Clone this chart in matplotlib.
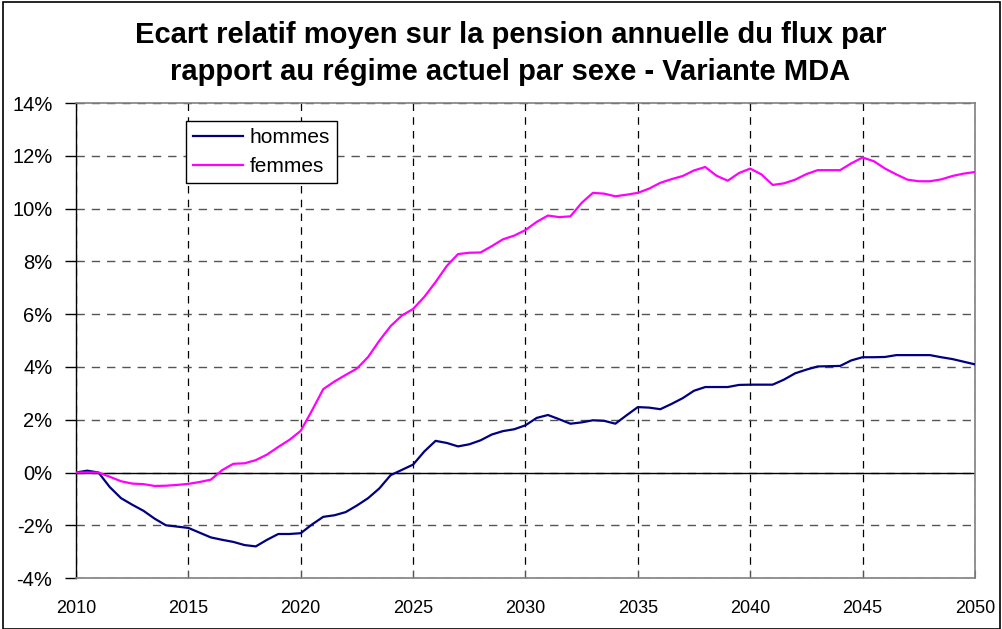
import numpy as np
import matplotlib
matplotlib.use("Agg")
import matplotlib.pyplot as plt
from matplotlib.ticker import FuncFormatter, MultipleLocator
from matplotlib.patches import Rectangle

plt.rcParams['font.family'] = ['Liberation Sans', 'DejaVu Sans']

# half-year steps, 2010 -> 2050
years = np.arange(2010, 2050.01, 0.5)

hommes = [
    0.00, 0.07, 0.00, -0.55, -0.97, -1.22, -1.45, -1.75, -2.00, -2.05,
    -2.10, -2.28, -2.46, -2.55, -2.63, -2.75, -2.80, -2.55, -2.33, -2.33,
    -2.30, -1.97, -1.68, -1.62, -1.50, -1.25, -0.97, -0.60, -0.10, 0.10,
    0.30, 0.80, 1.20, 1.12, 0.99, 1.07, 1.22, 1.44, 1.57, 1.64,
    1.79, 2.07, 2.18, 2.02, 1.85, 1.90, 1.98, 1.96, 1.85, 2.17,
    2.48, 2.46, 2.40, 2.60, 2.82, 3.10, 3.24, 3.24, 3.24, 3.32,
    3.33, 3.33, 3.33, 3.52, 3.76, 3.90, 4.02, 4.03, 4.04, 4.25,
    4.37, 4.37, 4.38, 4.45, 4.45, 4.45, 4.45, 4.37, 4.30, 4.20,
    4.10,
]

femmes = [
    0.00, 0.00, 0.00, -0.16, -0.33, -0.42, -0.44, -0.51, -0.50, -0.47,
    -0.43, -0.36, -0.27, 0.09, 0.33, 0.35, 0.47, 0.68, 0.97, 1.24,
    1.58, 2.35, 3.16, 3.45, 3.70, 3.94, 4.38, 5.00, 5.55, 5.95,
    6.20, 6.66, 7.22, 7.83, 8.28, 8.33, 8.34, 8.58, 8.84, 8.98,
    9.19, 9.50, 9.74, 9.68, 9.71, 10.22, 10.60, 10.57, 10.47, 10.53,
    10.60, 10.76, 10.98, 11.12, 11.24, 11.45, 11.58, 11.25, 11.06, 11.35,
    11.52, 11.30, 10.90, 10.96, 11.10, 11.31, 11.46, 11.46, 11.46, 11.72,
    11.94, 11.80, 11.52, 11.30, 11.10, 11.04, 11.04, 11.11, 11.24, 11.33,
    11.39,
]

title_lines = ['Ecart relatif moyen sur la pension annuelle du flux par',
               'rapport au régime actuel par sexe - Variante MDA']

fig = plt.figure(figsize=(10.03, 6.29), dpi=100)
fig.patches.append(Rectangle((0.003, 0.0), 0.994, 0.997, transform=fig.transFigure,
                             fill=False, edgecolor='black', linewidth=1.2))

ax = fig.add_axes([0.0758, 0.081, 0.8962, 0.755])
ax.plot(years, hommes, color='#000080', linewidth=1.6, label='hommes', zorder=3)
ax.plot(years, femmes, color='#FF00FF', linewidth=1.6, label='femmes', zorder=3)

ax.set_xlim(2010, 2050)
ax.set_ylim(-4, 14)
ax.xaxis.set_major_locator(MultipleLocator(5))
ax.yaxis.set_major_locator(MultipleLocator(2))
ax.yaxis.set_major_formatter(FuncFormatter(lambda v, p: f'{v:.0f}%'))

ax.grid(True, axis='x', color='black', linestyle=(0, (6, 5)), linewidth=0.9)
ax.grid(True, axis='y', color='#555555', linestyle=(0, (6, 5)), linewidth=1.0)
ax.axhline(0, color='black', linewidth=1.0, zorder=2)

for side in ['top', 'right', 'bottom']:
    ax.spines[side].set_color('#808080')
    ax.spines[side].set_linewidth(1.2)
ax.spines['left'].set_color('black')
ax.spines['left'].set_linewidth(1.0)

ax.tick_params(axis='y', direction='out', length=8, width=1, labelsize=14.5, pad=9)
ax.tick_params(axis='x', direction='in', length=6, width=0.8, color='#555555',
               labelsize=13, pad=16)

fig.text(0.509, 0.944, title_lines[0], ha='center', va='center',
         fontsize=21, fontweight='bold')
fig.text(0.509, 0.886, title_lines[1], ha='center', va='center',
         fontsize=21, fontweight='bold')

leg = ax.legend(loc='upper left', bbox_to_anchor=(0.1225, 0.962), fontsize=15,
                frameon=True, fancybox=False, edgecolor='black', framealpha=1,
                handlelength=2.4, handletextpad=0.3, borderpad=0.35,
                labelspacing=0.45, borderaxespad=0)
leg.get_frame().set_linewidth(1.0)

fig.savefig('out.png', dpi=100)
